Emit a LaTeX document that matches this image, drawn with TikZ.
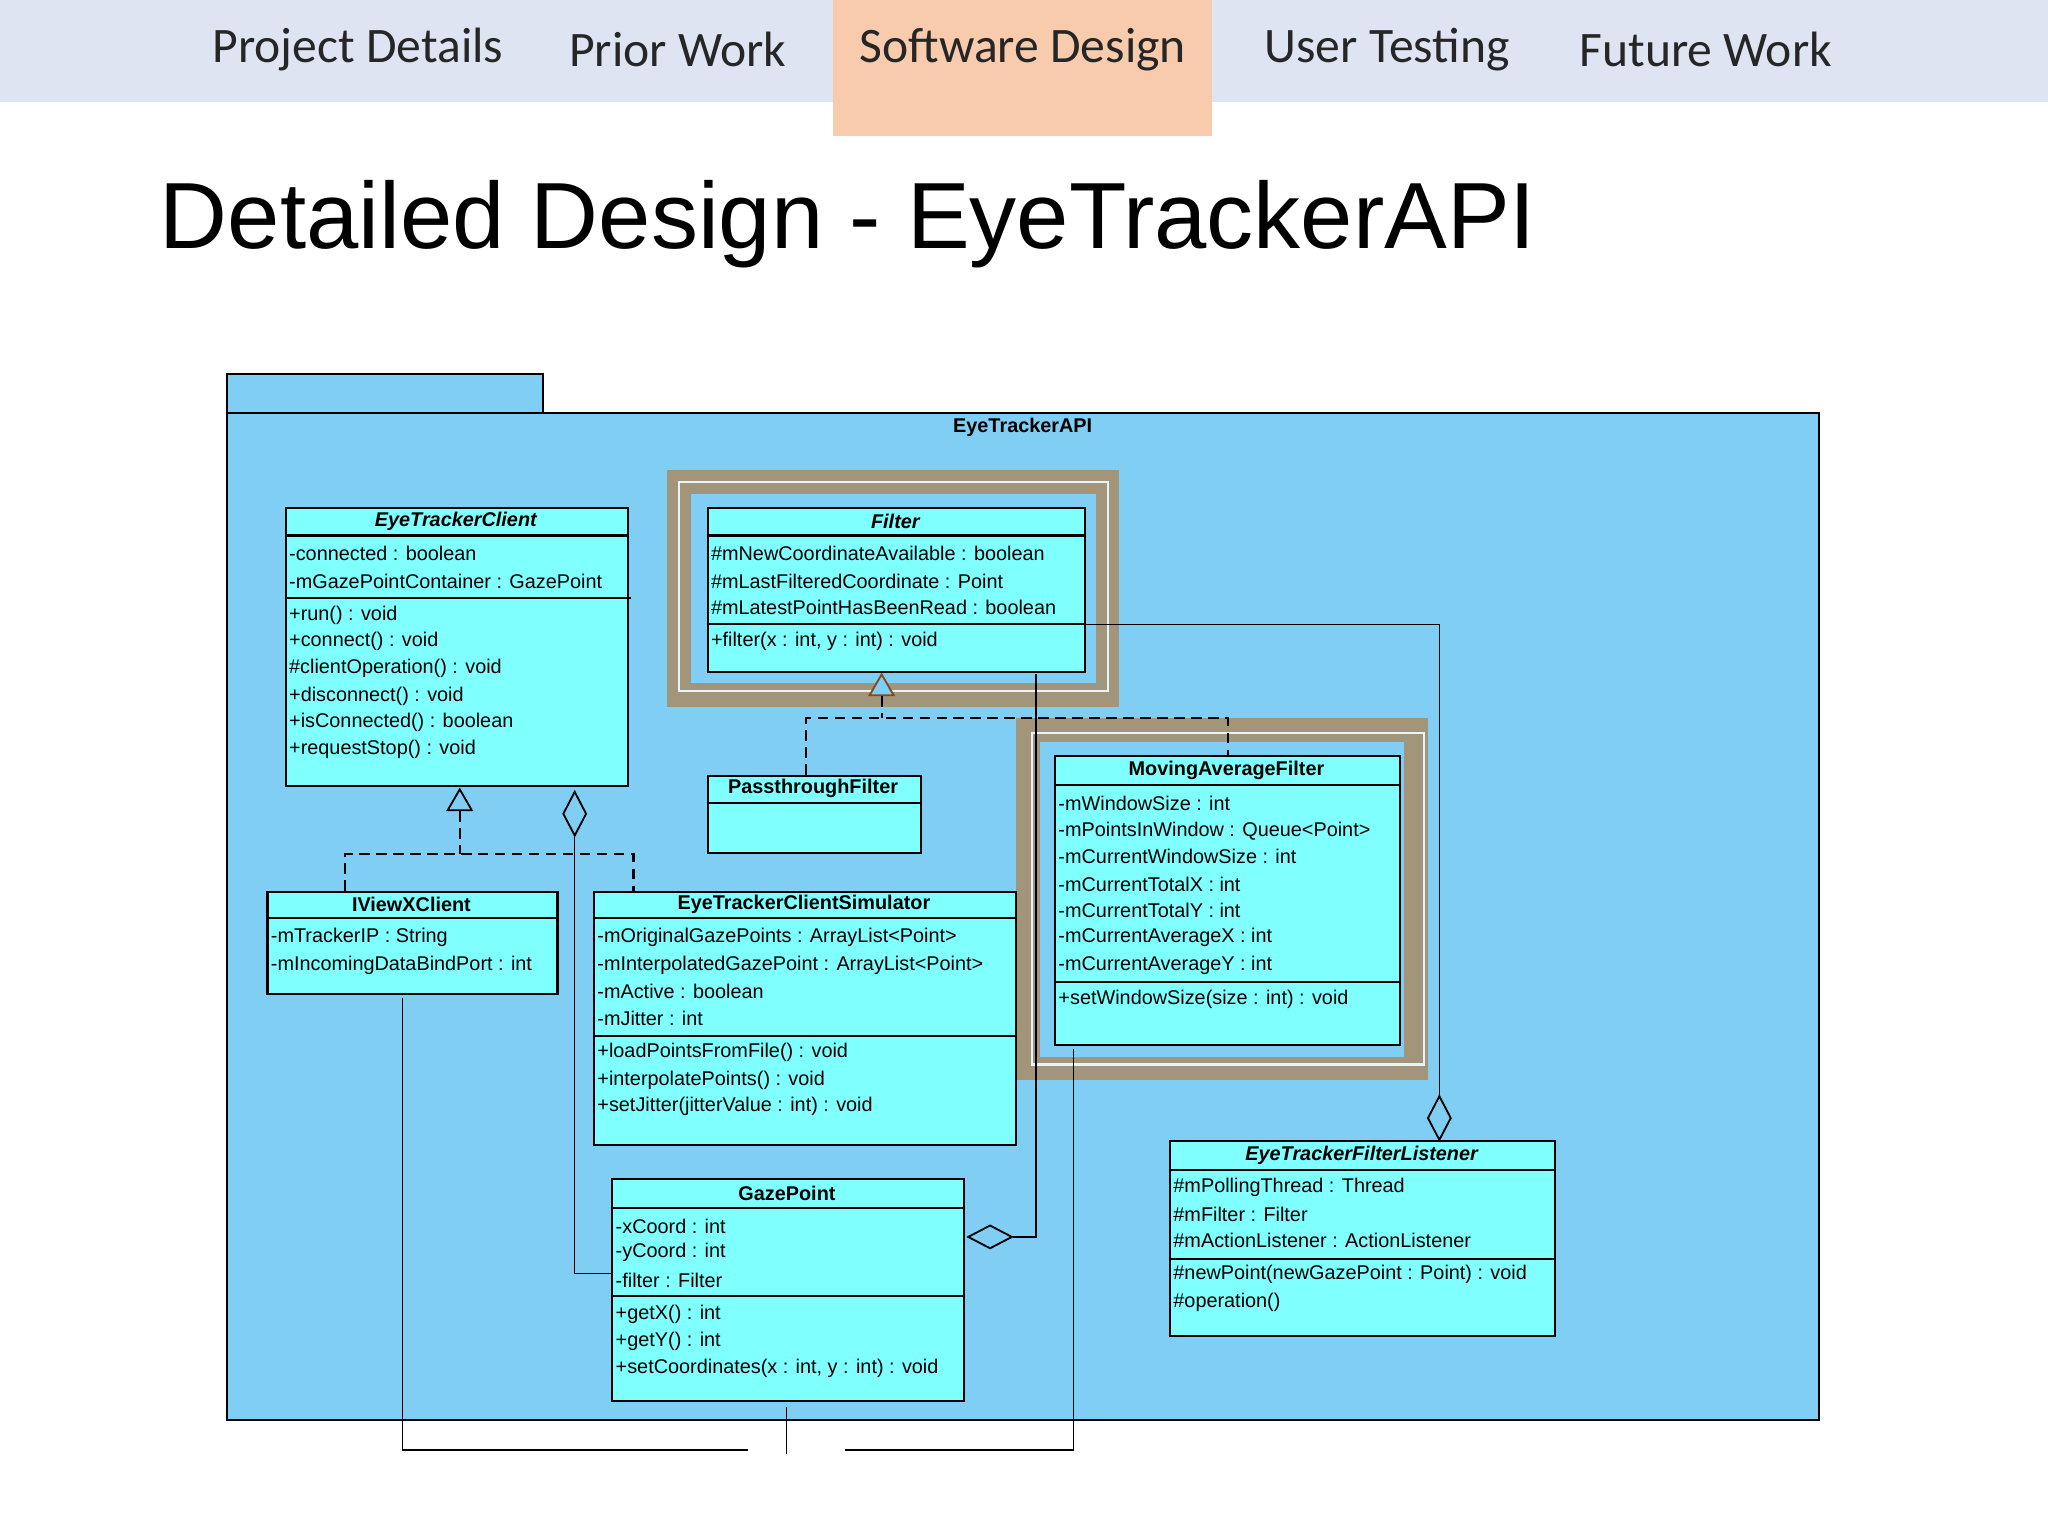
\documentclass[tikz,border=0pt]{standalone}
\usepackage{fontspec}
\setmainfont{Liberation Sans}
\newfontfamily\tabfont{Carlito}
\usetikzlibrary{shapes.geometric}
\definecolor{barc}{RGB}{222,228,241}
\definecolor{peach}{RGB}{248,203,173}
\definecolor{pkg}{RGB}{128,206,244}
\definecolor{clsc}{RGB}{128,255,255}
\definecolor{glow}{RGB}{170,140,100}
\definecolor{brownl}{RGB}{140,70,20}
\tikzset{
  tabtxt/.style={font=\tabfont\fontsize{19}{22}\selectfont, text=black!85, inner sep=0},
  cls/.style={draw=black, fill=clsc, line width=0.8pt, inner sep=0, anchor=north west},
  ttl/.style={font=\fontsize{7.6}{9}\selectfont\bfseries, inner sep=0},
  att/.style={font=\fontsize{7.6}{9}\selectfont, inner sep=0, anchor=west},
  sep/.style={line width=0.8pt},
  conn/.style={line width=0.6pt},
  dconn/.style={line width=0.8pt, dash pattern=on 4pt off 2.5pt},
  dia/.style={diamond, draw=black, fill=pkg, line width=0.7pt, inner sep=0, minimum width=9pt, minimum height=17pt},
  diah/.style={diamond, draw=black, fill=pkg, line width=0.7pt, inner sep=0, minimum width=17pt, minimum height=9pt},
  tri/.style={isosceles triangle, shape border rotate=90, isosceles triangle apex angle=60, draw=black, fill=pkg, line width=0.7pt, inner sep=0, minimum height=8pt, minimum width=8pt},
  glowr/.style={draw=glow, line width=9pt, opacity=0.85},
  glowl/.style={draw=white!80!pkg, line width=0.8pt}
}
% \umlcls{name}{x1}{y1}{x2}{y2}{headerbottom}{title}
\newcommand\umlcls[7]{%
  \node[cls, minimum width={(#4-#2)*0.5pt}, minimum height={(#5-#3)*0.5pt}] (#1) at (#2,#3) {};
  \node[ttl] (#1t) at ({(#2+#4)/2},{(#3+#6)/2}) {#7};
  \draw[sep] (#2,#6) -- (#4,#6);
}
\newcommand\sepl[3]{\draw[sep] (#1,#3) -- (#2,#3);}
\begin{document}
\begin{tikzpicture}[x=0.5pt,y=-0.5pt]
\useasboundingbox (0,0) rectangle (1568,1176);
\fill[white] (0,0) rectangle (1568,1176);
% top bar
\fill[barc] (0,0) rectangle (1568,78);
\fill[peach] (638,0) rectangle (928,104);
\node[tabtxt] (t1) at (274,38) {Project Details};
\node[tabtxt] (t2) at (519,38) {Prior Work};
\node[tabtxt] (t3) at (783,38) {Software Design};
\node[tabtxt] (t4) at (1062,38) {User Testing};
\node[tabtxt] (t5) at (1306,38) {Future Work};
\node[anchor=west, inner sep=0, font=\fontsize{36}{40}\selectfont] (title) at (122,172) {Detailed Design - EyeTrackerAPI};
% package
\draw[fill=pkg, line width=0.8pt] (174,286) rectangle (416,316);
\draw[fill=pkg, line width=0.8pt] (174,316) rectangle (1393,1087);
\node[ttl] (pkgname) at (783,327) {EyeTrackerAPI};
% glows
\draw[glowr] (520,369) rectangle (848,532);
\draw[glowl] (520,369) rectangle (848,529);
\draw[glowr] (787,559) rectangle (1084,818);
\draw[glowl] (790,561) rectangle (1090,815);

% EyeTrackerClient
\umlcls{etc}{218}{388}{480}{601}{410}{\itshape EyeTrackerClient}
\sepl{218}{483}{458}
\node[att] at (221,424) {-connected : boolean};
\node[att] at (221,445) {-mGazePointContainer : GazePoint};
\node[att] at (221,471) {+run() : void};
\node[att] at (221,491) {+connect() : void};
\node[att] at (221,512) {\#clientOperation() : void};
\node[att] at (221,533) {+disconnect() : void};
\node[att] at (221,553) {+isConnected() : boolean};
\node[att] at (221,574) {+requestStop() : void};
% Filter
\umlcls{flt}{541}{388}{830}{514}{410}{\itshape Filter}
\sepl{541}{830}{478}
\node[att] at (544,424) {\#mNewCoordinateAvailable : boolean};
\node[att] at (544,445) {\#mLastFilteredCoordinate : Point};
\node[att] at (544,465) {\#mLatestPointHasBeenRead : boolean};
\node[att] at (544,491) {+filter(x : int, y : int) : void};
% Passthrough
\umlcls{ptf}{541}{593}{704}{652}{615}{PassthroughFilter}
% MovingAverage
\umlcls{maf}{807}{578}{1071}{799}{601}{MovingAverageFilter}
\sepl{807}{1071}{752}
\node[att] at (810,615) {-mWindowSize : int};
\node[att] at (810,636) {-mPointsInWindow : Queue<Point>};
\node[att] at (810,656) {-mCurrentWindowSize : int};
\node[att] at (810,677) {-mCurrentTotalX : int};
\node[att] at (810,697) {-mCurrentTotalY : int};
\node[att] at (810,718) {-mCurrentAverageX : int};
\node[att] at (810,739) {-mCurrentAverageY : int};
\node[att] at (810,765) {+setWindowSize(size : int) : void};
% IViewXClient
\umlcls{ivx}{204}{682}{426}{760}{703}{IViewXClient}
\node[att] at (207,718) {-mTrackerIP : String};
\node[att] at (207,739) {-mIncomingDataBindPort : int};
% Simulator
\umlcls{sim}{454}{682}{777}{876}{703}{EyeTrackerClientSimulator}
\sepl{454}{777}{793}
\node[att] at (457,718) {-mOriginalGazePoints : ArrayList<Point>};
\node[att] at (457,739) {-mInterpolatedGazePoint : ArrayList<Point>};
\node[att] at (457,759) {-mActive : boolean};
\node[att] at (457,780) {-mJitter : int};
\node[att] at (457,806) {+loadPointsFromFile() : void};
\node[att] at (457,827) {+interpolatePoints() : void};
\node[att] at (457,847) {+setJitter(jitterValue : int) : void};
% GazePoint
\umlcls{gzp}{468}{902}{737}{1072}{925}{GazePoint}
\sepl{468}{737}{992}
\node[att] at (471,939) {-xCoord : int};
\node[att] at (471,959) {-yCoord : int};
\node[att] at (471,980) {-filter : Filter};
\node[att] at (471,1006) {+getX() : int};
\node[att] at (471,1027) {+getY() : int};
\node[att] at (471,1048) {+setCoordinates(x : int, y : int) : void};
% Listener
\umlcls{efl}{895}{873}{1190}{1022}{896}{\itshape EyeTrackerFilterListener}
\sepl{895}{1190}{964}
\node[att] at (898,909) {\#mPollingThread : Thread};
\node[att] at (898,930) {\#mFilter : Filter};
\node[att] at (898,950) {\#mActionListener : ActionListener};
\node[att] at (898,976) {\#newPoint(newGazePoint : Point) : void};
\node[att] at (898,997) {\#operation()};

% realization to EyeTrackerClient
\node[tri] (tri1) at (352,615) {};
\coordinate (r1) at (352,654);
\coordinate (r1l) at (264,654);
\coordinate (r1r) at (485,654);
\draw[dconn] (tri1.south) -- (r1);
\draw[dconn] (ivx.north -| r1l) -- (r1l) -- (r1r) -- (sim.north -| r1r);
% aggregation EyeTrackerClient - GazePoint
\node[dia] (d1) at (440,623) {};
\coordinate (a1) at (440,975);
\draw[conn] (d1.south) -- (a1) -- (gzp.west |- a1);
% realization to Filter
\node[tri, draw=brownl] (tri2) at (675,527) {};
\coordinate (r2) at (675,550);
\coordinate (r2l) at (617,550);
\coordinate (r2r) at (940,550);
\draw[dconn] (tri2.south) -- (r2);
\draw[dconn] (ptf.north -| r2l) -- (r2l) -- (r2r) -- (maf.north -| r2r);
% Filter - Listener
\node[dia] (d2) at (1102,856) {};
\coordinate (f1) at (1102,478);
\draw[conn] (flt.east |- f1) -- (f1) -- (d2.north);
% Filter - GazePoint
\node[diah] (d3) at (758,947) {};
\coordinate (g1) at (793,516);
\coordinate (g2) at (793,947);
\draw[conn] (g1) -- (g2) -- (d3.east);
% lines leaving bottom
\coordinate (b1) at (308,764);
\coordinate (b1a) at (308,1110);
\coordinate (b1b) at (573,1110);
\draw[conn] (b1) -- (b1a) -- (b1b);
\coordinate (b2) at (602,1077);
\coordinate (b2a) at (602,1113);
\draw[conn] (b2) -- (b2a);
\coordinate (b3) at (822,803);
\coordinate (b3a) at (822,1110);
\coordinate (b3b) at (647,1110);
\draw[conn] (b3) -- (b3a) -- (b3b);
\end{tikzpicture}
\end{document}
